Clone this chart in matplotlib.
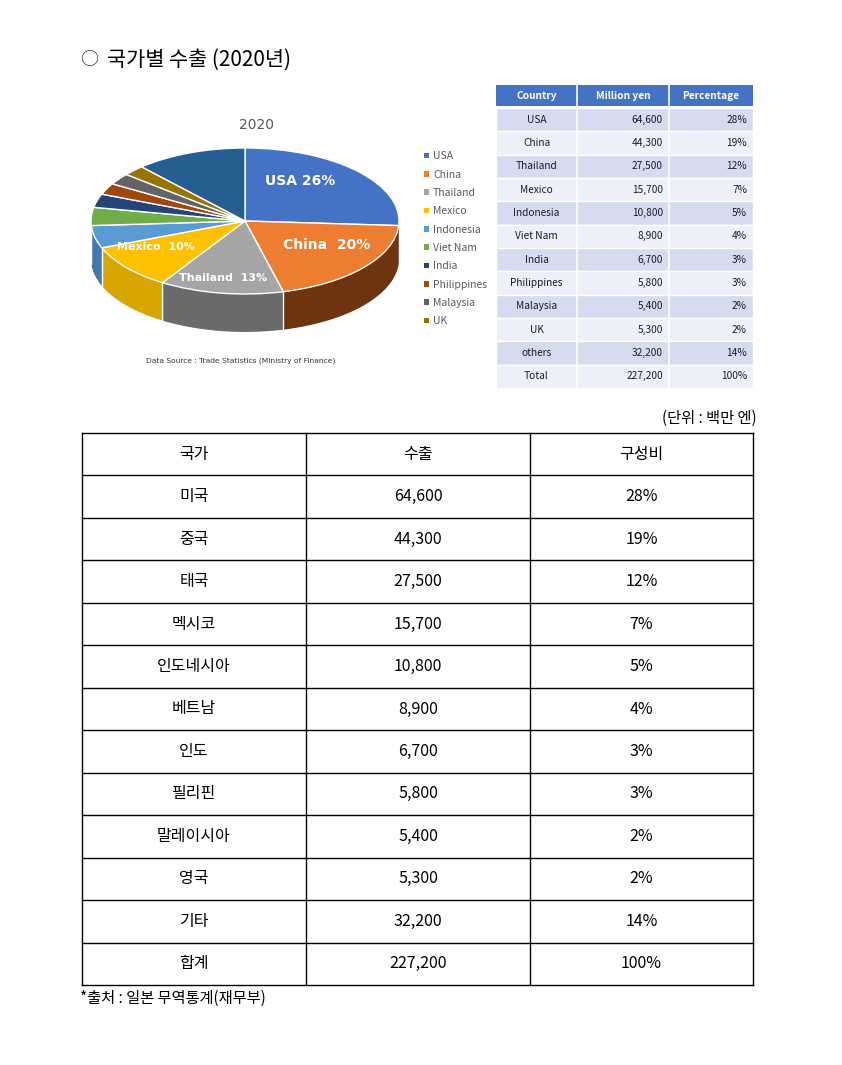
import numpy as np
import matplotlib
matplotlib.use('Agg')
from matplotlib import pyplot as plt
from matplotlib.patches import Rectangle

plt.rcParams['font.family'] = ['Noto Sans CJK KR', 'DejaVu Sans']

# table data (million yen)
countries_en = ['USA', 'China', 'Thailand', 'Mexico', 'Indonesia', 'Viet Nam',
                'India', 'Philippines', 'Malaysia', 'UK', 'others', 'Total']
countries_ko = ['미국', '중국', '태국', '멕시코', '인도네시아', '베트남',
                '인도', '필리핀', '말레이시아', '영국', '기타', '합계']
exports = [64600, 44300, 27500, 15700, 10800, 8900, 6700, 5800, 5400, 5300, 32200, 227200]
percent = [28, 19, 12, 7, 5, 4, 3, 3, 2, 2, 14, 100]

# pie shares as drawn in the chart image
pie_names = ['USA', 'China', 'Thailand', 'Mexico', 'Indonesia', 'Viet Nam',
             'India', 'Philippines', 'Malaysia', 'UK', 'others']
pie_share = [26, 20, 13, 10, 5, 4, 3, 2.5, 2.5, 2.3, 11.7]
pie_labels = ['USA 26%', 'China  20%', 'Thailand  13%', 'Mexico  10%']

top_colors = ['#4472C4', '#ED7D31', '#A5A5A5', '#FFC000', '#5B9BD5', '#70AD47',
              '#264478', '#9E480E', '#636363', '#997300', '#255E91']
side_colors = ['#2F5597', '#6E3410', '#6A6A6A', '#D9A500', '#4479AE', '#4E7F33',
               '#1A3055', '#6E320A', '#454545', '#6B5000', '#1A4266']

W, H = 842, 1065
fig = plt.figure(figsize=(W / 100, H / 100), dpi=100)

page = fig.add_axes([0, 0, 1, 1])
page.set_xlim(0, W)
page.set_ylim(H, 0)
page.axis('off')

# heading
page.text(80, 60, '○', fontsize=13, va='center', ha='left', color='#333333')
page.text(107, 60, '국가별 수출 (2020년)', fontsize=15, va='center', ha='left', color='black')

# ---- 3D-looking pie ----
cx, cy, rx, ry = 245, 221, 154, 73
depth = 0.52
xl, yl = (-1.3, 1.3), (-2.0, 1.35)
left = cx + xl[0] * rx
bottom = cy - yl[0] * ry
top = cy - yl[1] * ry
pie_ax = fig.add_axes([left / W, (H - bottom) / H, (xl[1] - xl[0]) * rx / W, (bottom - top) / H])

for d in np.linspace(depth, 0.01, 45):
    pie_ax.pie(pie_share, colors=side_colors, startangle=90, counterclock=False,
               center=(0, -d), wedgeprops=dict(linewidth=0))
wedges, _ = pie_ax.pie(pie_share, colors=top_colors, startangle=90, counterclock=False,
                       wedgeprops=dict(linewidth=1, edgecolor='white'))

# white seams on the side wall
bounds = 90 - np.cumsum([0] + pie_share) * 3.6
for a in bounds:
    r = np.deg2rad(a)
    if np.sin(r) < 0:
        pie_ax.plot([np.cos(r), np.cos(r)], [np.sin(r), np.sin(r) - depth],
                    color='white', lw=1)

pie_ax.set_aspect('auto')
pie_ax.set_xlim(*xl)
pie_ax.set_ylim(*yl)
pie_ax.axis('off')

label_pos = [(0.36, 0.55), (0.53, -0.33), (-0.14, -0.78), (-0.58, -0.35)]
for txt, (lx, ly) in zip(pie_labels, label_pos):
    pie_ax.text(lx, ly, txt, color='white', fontsize=10 if txt.startswith(('USA', 'China')) else 8,
                fontweight='bold', ha='center', va='center', family=['DejaVu Sans'])

page.text(256, 125, '2020', fontsize=10, color='#595959', ha='center', va='center',
          family=['DejaVu Sans'])
page.text(241, 361, 'Data Source : Trade Statistics (Ministry of Finance)', fontsize=5.4,
          color='#333333', ha='center', va='center', family=['DejaVu Sans'])

leg = page.legend(wedges[:10], pie_names[:10], loc='upper left',
                  bbox_to_anchor=(419 / W, 1 - 146 / H), bbox_transform=fig.transFigure,
                  frameon=False, fontsize=7.5, handlelength=0.45, handleheight=0.45,
                  handletextpad=0.4, labelspacing=0.8, borderpad=0)
for t in leg.get_texts():
    t.set_color('#595959')
for h in leg.legend_handles:
    h.set_edgecolor('none')

# ---- small English table ----
col_x = [496, 577, 669, 753]
page.add_patch(Rectangle((col_x[0], 85), col_x[3] - col_x[0], 21, facecolor='#4472C4', edgecolor='none'))
for x in col_x[1:3]:
    page.plot([x, x], [85, 106], color='white', lw=1.2)
for name, x0, x1 in zip(['Country', 'Million yen', 'Percentage'], col_x[:-1], col_x[1:]):
    page.text((x0 + x1) / 2, 96, name, color='white', fontsize=7.3, fontweight='bold',
              ha='center', va='center')

row_h = (388 - 108) / len(countries_en)
for i, (c, v, p) in enumerate(zip(countries_en, exports, percent)):
    y0 = 108 + i * row_h
    fc = '#D5DCF0' if i % 2 == 0 else '#EDF0F9'
    page.add_patch(Rectangle((col_x[0], y0), col_x[3] - col_x[0], row_h,
                             facecolor=fc, edgecolor='white', lw=1))
    for x in col_x[1:3]:
        page.plot([x, x], [y0, y0 + row_h], color='white', lw=1.2)
    ym = y0 + row_h / 2
    page.text((col_x[0] + col_x[1]) / 2, ym, c, fontsize=7.3, ha='center', va='center', color='#1a1a2a')
    page.text(col_x[2] - 6, ym, f'{v:,}', fontsize=7.3, ha='right', va='center', color='#1a1a2a')
    page.text(col_x[3] - 6, ym, f'{p}%', fontsize=7.3, ha='right', va='center', color='#1a1a2a')

# ---- big Korean table ----
page.text(757, 418, '(단위 : 백만 엔)', fontsize=11, ha='right', va='center')
bx = [82, 306, 530, 753]
by0, by1 = 433, 985
n_rows = len(countries_ko) + 1
bh = (by1 - by0) / n_rows
for k in range(n_rows + 1):
    page.plot([bx[0], bx[-1]], [by0 + k * bh] * 2, color='black', lw=1)
for x in bx:
    page.plot([x, x], [by0, by1], color='black', lw=1)

rows = [('국가', '수출', '구성비')] + [(c, f'{v:,}', f'{p}%') for c, v, p in
                                      zip(countries_ko, exports, percent)]
for k, row in enumerate(rows):
    ym = by0 + (k + 0.5) * bh
    for j, cell in enumerate(row):
        page.text((bx[j] + bx[j + 1]) / 2, ym, cell, fontsize=11.5, ha='center', va='center')

page.text(80, 998, '*출처 : 일본 무역통계(재무부)', fontsize=11, ha='left', va='center')

fig.savefig('out.png', dpi=100)
